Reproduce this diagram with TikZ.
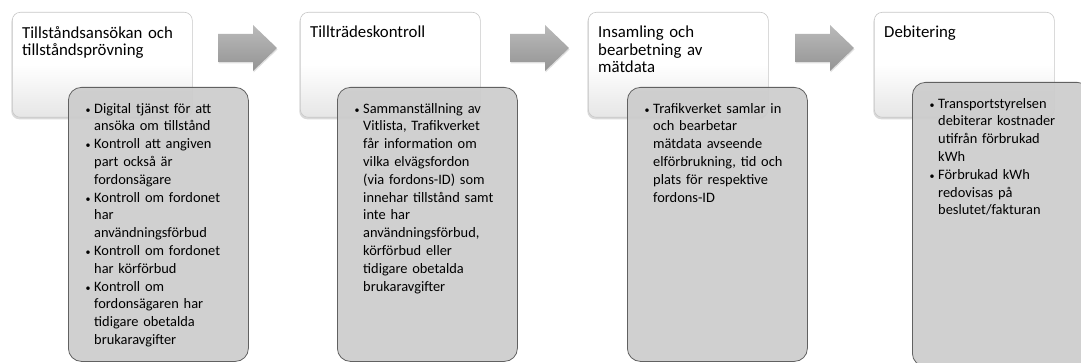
\documentclass[tikz,border=0pt]{standalone}
\usepackage{fontspec}
\setmainfont{Carlito}
\usetikzlibrary{shadows}

% bullet with hanging text (leftskip stays for the wrapped lines)
\newcommand\punkt{\leftskip=10pt\leavevmode\hspace*{-10pt}\makebox[10pt][l]{\hspace{1.5pt}\fontsize{10}{10}\selectfont\textbullet}}

\tikzset{
  stegbox/.style={draw=black!22, line width=0.6pt, rounded corners=8pt,
    top color=white, bottom color=black!10, middle color=white,
    minimum width=180pt, minimum height=105pt, anchor=north west, inner sep=0pt,
    drop shadow={shadow xshift=-1pt, shadow yshift=-2pt, opacity=0.3}},
  infobox/.style={draw=black!62, line width=0.8pt, rounded corners=13pt,
    fill=black!20, fill opacity=0.92, minimum width=180pt, minimum height=274pt,
    anchor=north west, inner sep=0pt},
  rubrik/.style={anchor=north west, inner sep=0pt, text width=170pt, align=left,
    font=\fontsize{16.8}{17.5}\selectfont},
  punkter/.style={anchor=north west, inner sep=0pt, text width=158pt, align=left,
    font=\fontsize{14.4}{17.8}\selectfont},
  pil/.style={top color=black!27, bottom color=black!42,
    drop shadow={shadow xshift=0.5pt, shadow yshift=-1.5pt, opacity=0.25}}
}

\begin{document}
\begin{tikzpicture}[x=1pt,y=-1pt]
\clip (0,0) rectangle (1081,363);

% white step boxes
\node[stegbox] (w1) at (12,12) {};
\node[stegbox] (w2) at (300,12) {};
\node[stegbox] (w3) at (588,12) {};
\node[stegbox] (w4) at (874,12) {};

\node[rubrik] (t1) at ([xshift=10pt,yshift=-14pt]w1.north west) {Tillståndsansökan och\\tillståndsprövning};
\node[rubrik] (t2) at ([xshift=10pt,yshift=-14pt]w2.north west) {Tillträdeskontroll};
\node[rubrik] (t3) at ([xshift=10pt,yshift=-14pt]w3.north west) {Insamling och\\bearbetning av\\mätdata};
\node[rubrik] (t4) at ([xshift=10pt,yshift=-14pt]w4.north west) {Debitering};

% grey detail boxes
\node[infobox] (g1) at (68,87) {};
\node[infobox] (g2) at (337,87) {};
\node[infobox] (g3) at (627,87) {};
\node[infobox,minimum width=178pt,minimum height=284pt] (g4) at (912,82) {};

\node[punkter] (p1) at ([xshift=16pt,yshift=-16pt]g1.north west) {%
\punkt Digital tjänst för att\\ansöka om tillstånd\par
\punkt Kontroll att angiven\\part också är\\fordonsägare\par
\punkt Kontroll om fordonet\\har\\användningsförbud\par
\punkt Kontroll om fordonet\\har körförbud\par
\punkt Kontroll om\\fordonsägaren har\\tidigare obetalda\\brukaravgifter\par};
\node[punkter] (p2) at ([xshift=16pt,yshift=-16pt]g2.north west) {%
\punkt Sammanställning av\\Vitlista, Trafikverket\\får information om\\vilka elvägsfordon\\(via fordons-ID) som\\innehar tillstånd samt\\inte har\\användningsförbud,\\körförbud eller\\tidigare obetalda\\brukaravgifter\par};
\node[punkter] (p3) at ([xshift=16pt,yshift=-16pt]g3.north west) {%
\punkt Trafikverket samlar in\\och bearbetar\\mätdata avseende\\elförbrukning, tid och\\plats för respektive\\fordons-ID\par};
\node[punkter] (p4) at ([xshift=16pt,yshift=-16pt]g4.north west) {%
\punkt Transportstyrelsen\\debiterar kostnader\\utifrån förbrukad\\kWh\par
\punkt Förbrukad kWh\\redovisas på\\beslutet/fakturan\par};

% arrows between the steps
\path[pil] (218,34) -- (253,34) -- (253,25) -- (277,48) -- (253,71) -- (253,62) -- (218,62) -- cycle;
\path[pil] (510,34) -- (545,34) -- (545,25) -- (569,48) -- (545,71) -- (545,62) -- (510,62) -- cycle;
\path[pil] (795,34) -- (830,34) -- (830,25) -- (854,48) -- (830,71) -- (830,62) -- (795,62) -- cycle;
\end{tikzpicture}
\end{document}
